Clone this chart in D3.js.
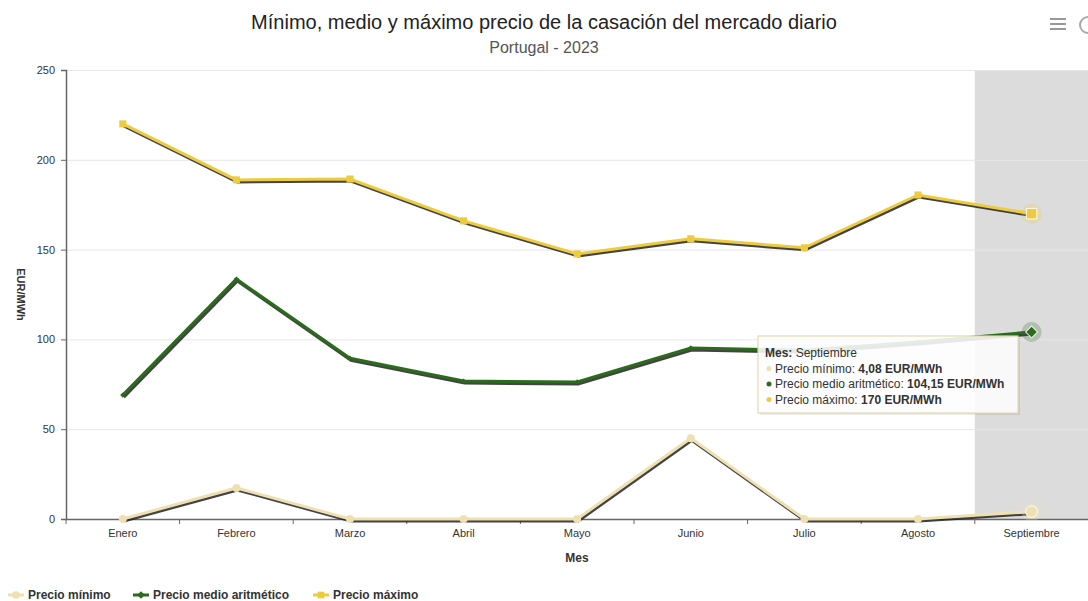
<!DOCTYPE html>
<html>
<head>
<meta charset="utf-8">
<script src="https://cdn.jsdelivr.net/npm/d3@7"></script>
<style>
  body { margin: 0; background: #fff; font-family: "Liberation Sans", Arial, sans-serif; }
  svg text { font-family: "Liberation Sans", Arial, sans-serif; }
</style>
</head>
<body>
<div id="main"></div>
<script>
// data
var meses = ["Enero", "Febrero", "Marzo", "Abril", "Mayo", "Junio", "Julio", "Agosto", "Septiembre"];
var precioMinimo = [0, 17.3, 0, 0, 0, 45, 0, 0, 4.08];
var precioMedio = [69, 133.6, 89.5, 76.8, 76.3, 95.2, 94, 98.5, 104.15];
var precioMaximo = [220, 188.8, 189.3, 166, 147.6, 156, 151, 180.4, 170];
var yTicks = [0, 50, 100, 150, 200, 250];

var W = 1088, H = 601;
var margin = { top: 70, left: 66, right: 0, bottom: 82 };

var svg = d3.select("#main").append("svg")
	.attr("width", W)
	.attr("height", H);

var x = d3.scaleBand()
	.domain(meses)
	.range([margin.left, W - margin.right + 0.4]);

var y = d3.scaleLinear()
	.domain([0, 250])
	.range([H - margin.bottom, margin.top]);

// highlighted band (hovered month)
svg.append("rect")
	.attr("x", x("Septiembre"))
	.attr("y", y(250))
	.attr("width", x.bandwidth())
	.attr("height", y(0) - y(250))
	.attr("fill", "#dcdcdc");

// grid
svg.append("g")
	.selectAll("line")
	.data(yTicks.slice(1))
	.enter().append("line")
	.attr("x1", margin.left)
	.attr("x2", W)
	.attr("y1", function(d) { return y(d) + 0.5 })
	.attr("y2", function(d) { return y(d) + 0.5 })
	.attr("stroke", "#e6e6e6")
	.attr("stroke-width", 1);

// y axis
var yAxis = svg.append("g")
	.attr("transform", "translate(" + margin.left + ",0)")
	.call(d3.axisLeft(y).tickValues(yTicks).tickSize(5).tickPadding(6));
yAxis.select(".domain").attr("stroke", "#666").attr("stroke-width", 1.5);
yAxis.selectAll(".tick line").attr("stroke", "#666");
yAxis.selectAll("text").attr("fill", "#333").style("font-size", "11px");

// x axis
var xAxis = svg.append("g")
	.attr("transform", "translate(0," + y(0) + ")")
	.call(d3.axisBottom(x).tickSize(0).tickPadding(10));
xAxis.select(".domain").attr("stroke", "#666").attr("stroke-width", 1.5);
xAxis.selectAll("text").attr("fill", "#333").style("font-size", "11px");
// tick marks at band edges
xAxis.selectAll(".edge")
	.data(meses)
	.enter().append("line")
	.attr("class", "edge")
	.attr("x1", function(d) { return x(d) })
	.attr("x2", function(d) { return x(d) })
	.attr("y1", 0)
	.attr("y2", 5)
	.attr("stroke", "#666");

// titles
svg.append("text")
	.attr("x", 544).attr("y", 29)
	.attr("text-anchor", "middle")
	.style("font-size", "20px")
	.attr("fill", "#222")
	.text("Mínimo, medio y máximo precio de la casación del mercado diario");
svg.append("text")
	.attr("x", 544).attr("y", 53)
	.attr("text-anchor", "middle")
	.style("font-size", "16px")
	.attr("fill", "#555")
	.text("Portugal - 2023");

svg.append("text")
	.attr("transform", "translate(17," + ((y(0) + y(250)) / 2) + ") rotate(90)")
	.attr("text-anchor", "middle")
	.style("font-size", "11px")
	.style("font-weight", "bold")
	.attr("fill", "#333")
	.text("EUR/MWh");

svg.append("text")
	.attr("x", 577).attr("y", 562)
	.attr("text-anchor", "middle")
	.style("font-size", "12px")
	.style("font-weight", "bold")
	.attr("fill", "#333")
	.text("Mes");

// series
var series = [
	{ name: "Precio mínimo", values: precioMinimo, color: "#efe0b2", marker: "circle", size: 50 },
	{ name: "Precio medio aritmético", values: precioMedio, color: "#2a6b1c", marker: "diamond", size: 14 },
	{ name: "Precio máximo", values: precioMaximo, color: "#eccb3f", marker: "square", size: 50 }
];

var line = d3.line()
	.x(function(d, i) { return x(meses[i]) + x.bandwidth() / 2 })
	.y(function(d) { return y(d) });

// diamond drawn as a square turned by 45 degrees
var symbolType = { circle: d3.symbolCircle, diamond: d3.symbolSquare, square: d3.symbolSquare };
function rot(s) { return s.marker == "diamond" ? " rotate(45)" : "" }

series.forEach(function(s) {
	var g = svg.append("g");
	var last = s.values.length - 1;
	// shadow
	g.append("path")
		.attr("d", line(s.values))
		.attr("transform", "translate(1,2)")
		.attr("fill", "none")
		.attr("stroke", "#222")
		.attr("stroke-opacity", 0.85)
		.attr("stroke-width", 3);
	g.append("path")
		.attr("d", line(s.values))
		.attr("fill", "none")
		.attr("stroke", s.color)
		.attr("stroke-width", 3);
	// halo on hovered point
	g.append("circle")
		.attr("cx", x(meses[last]) + x.bandwidth() / 2)
		.attr("cy", y(s.values[last]))
		.attr("r", 10)
		.attr("fill", s.color)
		.attr("fill-opacity", 0.25);
	g.selectAll(".pt")
		.data(s.values)
		.enter().append("path")
		.attr("class", "pt")
		.attr("transform", function(d, i) {
			return "translate(" + (x(meses[i]) + x.bandwidth() / 2) + "," + y(d) + ")" + rot(s);
		})
		.attr("d", function(d, i) {
			return d3.symbol().type(symbolType[s.marker]).size(i == last ? (s.marker == "diamond" ? 70 : 110) : s.size)();
		})
		.attr("fill", s.color)
		.attr("stroke", function(d, i) { return i == last ? "rgba(255,255,255,0.9)" : "none" })
		.attr("stroke-width", 1);
});

// tooltip
var tip = svg.append("g").attr("transform", "translate(758,336)");
tip.append("rect")
	.attr("x", 2).attr("y", 2)
	.attr("width", 260).attr("height", 77)
	.attr("fill", "#000").attr("fill-opacity", 0.08);
tip.append("rect")
	.attr("width", 260).attr("height", 77)
	.attr("fill", "#fff").attr("fill-opacity", 0.88)
	.attr("stroke", "#e3d9ad").attr("stroke-width", 1.2);
var tt = tip.append("text")
	.attr("x", 7).attr("y", 21)
	.style("font-size", "12px")
	.attr("fill", "#333");
tt.append("tspan").style("font-weight", "bold").text("Mes:");
tt.append("tspan").text(" " + meses[8]);
series.forEach(function(s, i) {
	var ty = 36.5 + i * 15.5;
	var val = s.values[8].toLocaleString("es-ES", { maximumFractionDigits: 2 });
	tip.append("circle").attr("cx", 11).attr("cy", ty - 4).attr("r", 2.5).attr("fill", s.color);
	var t = tip.append("text")
		.attr("x", 17).attr("y", ty)
		.style("font-size", "12px")
		.attr("fill", "#333");
	t.append("tspan").text(s.name + ": ");
	t.append("tspan").style("font-weight", "bold").text(val + " EUR/MWh");
});

// legend
var legendX = [8, 133, 313];
series.forEach(function(s, i) {
	var lg = svg.append("g").attr("transform", "translate(" + legendX[i] + ",595)");
	lg.append("line")
		.attr("x1", 0).attr("x2", 16)
		.attr("y1", 0).attr("y2", 0)
		.attr("stroke", s.color).attr("stroke-width", 3);
	lg.append("path")
		.attr("transform", "translate(8,0)" + rot(s))
		.attr("d", d3.symbol().type(symbolType[s.marker]).size(s.marker == "diamond" ? 30 : 45)())
		.attr("fill", s.color);
	lg.append("text")
		.attr("x", 20).attr("y", 4)
		.style("font-size", "12px")
		.style("font-weight", "bold")
		.attr("fill", "#333")
		.text(s.name);
});

// menu icon
var menu = svg.append("g").attr("transform", "translate(1050,19)");
[0, 5, 10].forEach(function(d) {
	menu.append("line")
		.attr("x1", 0).attr("x2", 16)
		.attr("y1", d).attr("y2", d)
		.attr("stroke", "#999").attr("stroke-width", 2);
});
svg.append("circle")
	.attr("cx", 1088).attr("cy", 25).attr("r", 8)
	.attr("fill", "none").attr("stroke", "#aaa").attr("stroke-width", 2);
</script>
</body>
</html>
